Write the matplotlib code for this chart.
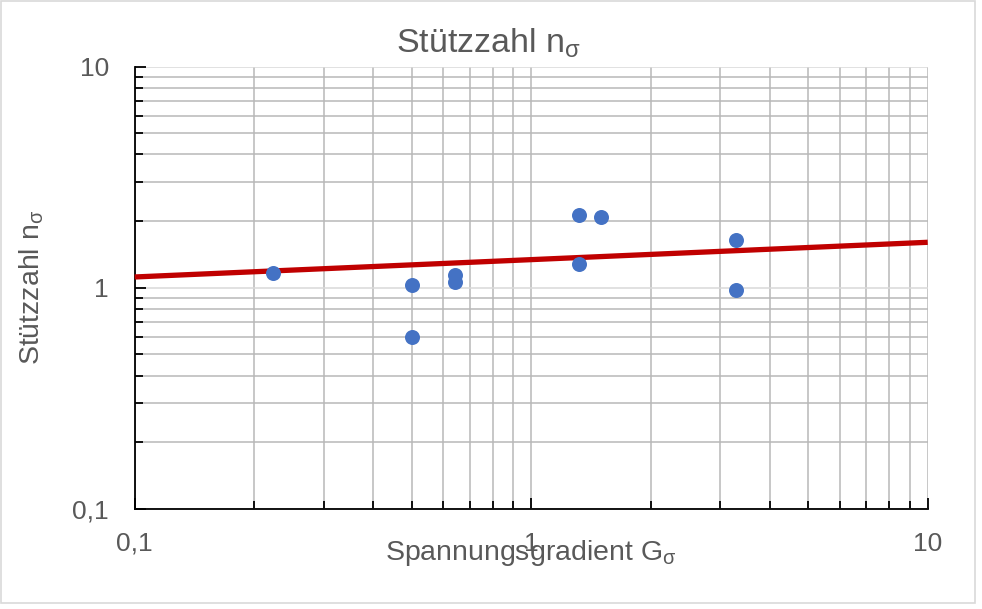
import matplotlib
matplotlib.use("Agg")
import matplotlib.pyplot as plt
from matplotlib.ticker import FixedLocator, FuncFormatter, LogLocator, NullFormatter
from matplotlib.patches import Rectangle

# ---- data ----
gradient_G = [0.223, 0.50, 0.50, 0.643, 0.643, 1.32, 1.32, 1.50, 3.28, 3.28]
stuetzzahl_n = [1.164, 1.024, 0.598, 1.145, 1.06, 2.12, 1.28, 2.09, 1.64, 0.975]
trend_G = [0.1, 10.0]
trend_n = [1.117, 1.603]
x_ticks = [0.1, 1, 10]
y_ticks = [0.1, 1, 10]

plt.rcParams['font.family'] = ['Liberation Sans', 'DejaVu Sans']
plt.rcParams['mathtext.fontset'] = 'custom'
plt.rcParams['mathtext.rm'] = 'Liberation Sans'
plt.rcParams['mathtext.it'] = 'Liberation Sans:italic'
plt.rcParams['mathtext.bf'] = 'Liberation Sans:bold'

TXT = '#595959'

fig = plt.figure(figsize=(9.82, 6.09), dpi=100)
ax = fig.add_axes([134.7/982, 1-508.7/609, 793/982, 442.2/609])

ax.set_xscale('log')
ax.set_yscale('log')
ax.set_xlim(0.1, 10)
ax.set_ylim(0.1, 10)

# grid
ax.grid(True, which='minor', axis='both', color='#B8B8B8', lw=1.1)
ax.grid(True, which='major', axis='x', color='#B8B8B8', lw=1.1)
ax.grid(True, which='major', axis='y', color='#D9D9D9', lw=1.1)
ax.set_axisbelow(True)

# trend line and points
ax.plot(trend_G, trend_n, color='#C00000', lw=3.8, solid_capstyle='butt', zorder=3, clip_on=False)
ax.plot(gradient_G, stuetzzahl_n, 'o', color='#4472C4', markersize=10.8, markeredgewidth=0, zorder=4)

# spines
for s in ['top', 'right']:
    ax.spines[s].set_visible(False)
for s in ['left', 'bottom']:
    ax.spines[s].set_color('black')
    ax.spines[s].set_linewidth(1.3)

fmt = FuncFormatter(lambda v, p: ('%g' % v).replace('.', ','))
ax.xaxis.set_major_locator(FixedLocator(x_ticks))
ax.yaxis.set_major_locator(FixedLocator(y_ticks))
ax.xaxis.set_minor_locator(LogLocator(base=10, subs=range(2, 10)))
ax.yaxis.set_minor_locator(LogLocator(base=10, subs=range(2, 10)))
ax.xaxis.set_major_formatter(fmt)
ax.yaxis.set_major_formatter(fmt)
ax.xaxis.set_minor_formatter(NullFormatter())
ax.yaxis.set_minor_formatter(NullFormatter())

ax.tick_params(axis='both', which='both', direction='in', color='black', width=1.3,
               labelsize=19, labelcolor=TXT)
ax.tick_params(axis='both', which='major', length=8)
ax.tick_params(axis='both', which='minor', length=6)
ax.tick_params(axis='y', which='major', pad=18.5)
ax.tick_params(axis='x', which='major', pad=16.5)

ax.set_title('Stützzahl n$_{\\mathrm{σ}}$', fontsize=24.5, color=TXT, pad=10,
             x=(488-134.7)/793)
ax.set_xlabel('Spannungsgradient G$_{\\mathrm{σ}}$', fontsize=20.5, color=TXT)
ax.set_ylabel('Stützzahl n$_{\\mathrm{σ}}$', fontsize=20.5, color=TXT)
ax.xaxis.label.set_va('baseline')
ax.xaxis.set_label_coords(0.5, (508.7-560)/442.2)
ax.yaxis.label.set_va('center')
ax.yaxis.set_label_coords((32-134.7)/793, 0.5)

fig.patches.append(Rectangle((1/982, 6/609), 974/982, 602/609, transform=fig.transFigure,
                             fill=False, edgecolor='#D9D9D9', lw=1.2))

fig.savefig('out.png', dpi=100)
